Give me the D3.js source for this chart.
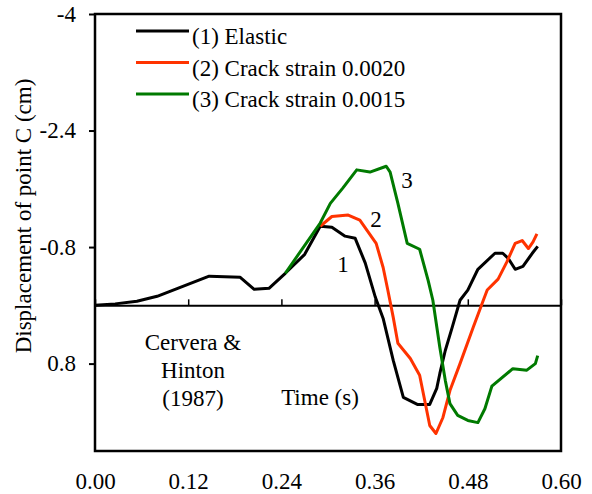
<!DOCTYPE html>
<html>
<head>
<meta charset="utf-8">
<script src="https://cdn.jsdelivr.net/npm/d3@7"></script>
<style>
  body { margin: 0; background: #fff; }
  svg text { font-family: "Liberation Serif", "Times New Roman", serif; fill: #000; }
</style>
</head>
<body>
<div id="chart"></div>
<script>
// time (s), displacement of point C (cm)
var elastic = [[0, 0], [0.026, -0.02], [0.054, -0.055], [0.080, -0.124], [0.147, -0.40], [0.187, -0.385],
  [0.205, -0.22], [0.224, -0.234], [0.245, -0.44], [0.270, -0.70], [0.290, -1.086], [0.305, -1.072],
  [0.322, -0.95], [0.335, -0.92], [0.348, -0.58], [0.361, -0.11], [0.371, 0.18], [0.384, 0.756],
  [0.397, 1.265], [0.415, 1.36], [0.431, 1.36], [0.440, 1.14], [0.444, 0.935], [0.451, 0.62],
  [0.460, 0.30], [0.470, -0.07], [0.480, -0.21], [0.493, -0.495], [0.515, -0.715], [0.525, -0.715],
  [0.532, -0.646], [0.541, -0.495], [0.551, -0.536], [0.563, -0.715], [0.570, -0.81]]

var crack0020 = [[0.290, -1.086], [0.305, -1.22], [0.326, -1.24], [0.341, -1.17], [0.362, -0.85],
  [0.371, -0.52], [0.377, -0.21], [0.384, 0.165], [0.390, 0.52], [0.406, 0.73], [0.418, 0.96],
  [0.431, 1.65], [0.439, 1.76], [0.448, 1.54], [0.457, 1.17], [0.470, 0.80], [0.487, 0.30],
  [0.500, -0.07], [0.505, -0.21], [0.519, -0.36], [0.530, -0.59], [0.541, -0.85], [0.550, -0.89],
  [0.558, -0.78], [0.564, -0.87], [0.569, -0.98]]

var crack0015 = [[0.245, -0.44], [0.290, -1.13], [0.303, -1.40], [0.319, -1.61], [0.337, -1.86],
  [0.354, -1.83], [0.375, -1.91], [0.380, -1.83], [0.390, -1.40], [0.402, -0.85], [0.418, -0.77],
  [0.429, -0.34], [0.435, -0.07], [0.444, 0.58], [0.451, 1.03], [0.457, 1.35], [0.467, 1.51],
  [0.480, 1.58], [0.493, 1.61], [0.502, 1.42], [0.511, 1.11], [0.538, 0.87], [0.556, 0.89],
  [0.567, 0.80], [0.570, 0.69]]

var seriesNames = ["(1) Elastic", "(2) Crack strain 0.0020", "(3) Crack strain 0.0015"]
var seriesColors = ["#000000", "#ff3300", "#007a00"]
var xTicks = [0, 0.12, 0.24, 0.36, 0.48, 0.60]
var yTicks = [-4, -2.4, -0.8, 0.8]

var width = 592, height = 494
var svg = d3.select("#chart").append("svg")
    .attr("width", width)
    .attr("height", height)

var x = d3.scaleLinear().domain([0, 0.6]).range([95, 561])
var y = d3.scaleLinear().domain([-4, 2]).range([14, 451])

// plot frame
svg.append("rect")
    .attr("x", x(0)).attr("y", y(-4))
    .attr("width", x(0.6) - x(0)).attr("height", y(2) - y(-4))
    .attr("fill", "none").attr("stroke", "#000").attr("stroke-width", 2.5)

// zero line with the x tick marks pointing up
var zeroAxis = svg.append("g")
    .attr("transform", "translate(0," + y(0) + ")")
    .call(d3.axisTop(x).tickValues(xTicks).tickSize(6).tickSizeOuter(0).tickFormat(""))
zeroAxis.select(".domain").attr("stroke-width", 2)
zeroAxis.selectAll(".tick line").attr("stroke-width", 1.5)

// x labels under the frame
var xAxis = svg.append("g")
    .attr("transform", "translate(0," + y(2) + ")")
    .call(d3.axisBottom(x).tickValues(xTicks).tickSize(0).tickPadding(22).tickFormat(d3.format(".2f")))
xAxis.select(".domain").remove()
xAxis.selectAll("text").style("font-size", "23px").attr("font-family", null)

var yAxis = svg.append("g")
    .attr("transform", "translate(" + x(0) + ",0)")
    .call(d3.axisLeft(y).tickValues(yTicks).tickSize(6).tickPadding(13).tickFormat(function(d) { return String(d) }))
yAxis.select(".domain").remove()
yAxis.selectAll(".tick line").attr("stroke-width", 2)
yAxis.selectAll("text").style("font-size", "23px").attr("font-family", null)

svg.append("text")
    .attr("transform", "translate(31,216) rotate(-90)")
    .attr("text-anchor", "middle")
    .style("font-size", "23px")
    .text("Displacement of point C (cm)")

// curves
var line = d3.line()
    .x(function(d) { return x(d[0]) })
    .y(function(d) { return y(d[1]) })

var allSeries = [elastic, crack0020, crack0015]
allSeries.forEach(function(s, i) {
  svg.append("path")
      .datum(s)
      .attr("d", line)
      .attr("fill", "none")
      .attr("stroke", seriesColors[i])
      .attr("stroke-width", 3)
      .attr("stroke-linejoin", "round")
})

// legend
var legend = svg.append("g").selectAll("g")
    .data(seriesNames)
  .enter().append("g")
    .attr("transform", function(d, i) { return "translate(136," + (31 + i * 31.5) + ")" })
legend.append("line")
    .attr("x1", 0).attr("x2", 53)
    .attr("stroke", function(d, i) { return seriesColors[i] })
    .attr("stroke-width", 3)
legend.append("text")
    .attr("x", 56).attr("y", 13)
    .style("font-size", "23px")
    .text(function(d) { return d })

// curve numbers and notes
var notes = [["1", 343, 272], ["2", 376, 227], ["3", 407, 188], ["Time (s)", 320, 405],
  ["Cervera &", 193, 350], ["Hinton", 193, 378], ["(1987)", 193, 406]]
svg.append("g").selectAll("text")
    .data(notes)
  .enter().append("text")
    .attr("x", function(d) { return d[1] })
    .attr("y", function(d) { return d[2] })
    .attr("text-anchor", "middle")
    .style("font-size", "23px")
    .text(function(d) { return d[0] })
</script>
</body>
</html>
